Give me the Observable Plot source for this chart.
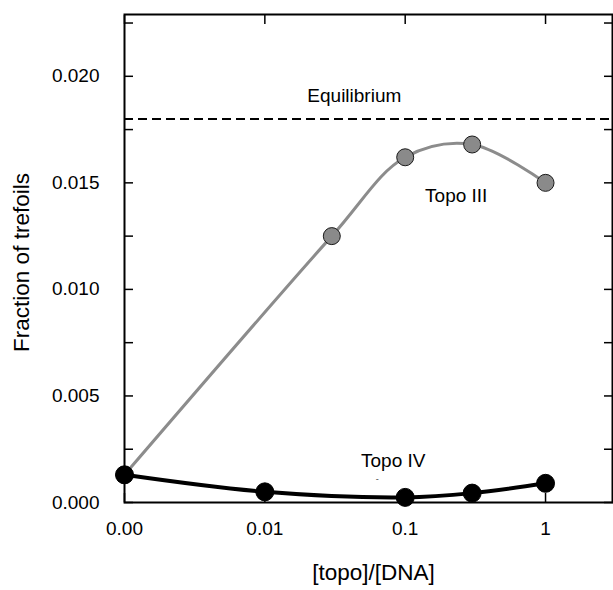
<!DOCTYPE html>
<html>
<head>
<meta charset="utf-8">
<script src="https://cdn.jsdelivr.net/npm/d3@7"></script>
<script src="https://cdn.jsdelivr.net/npm/@observablehq/plot@0.6"></script>
<style>
  html, body { margin: 0; padding: 0; background: #fff; }
</style>
</head>
<body>
<div id="chart"></div>
<script>
// [topo]/[DNA] ratios
const topo3X = [0.001, 0.03, 0.1, 0.3, 1];
const topo3Y = [0.0013, 0.0125, 0.0162, 0.0168, 0.0150];
const topo4X = [0.001, 0.01, 0.1, 0.3, 1];
const topo4Y = [0.0013, 0.0005, 0.00024, 0.00044, 0.0009];
const equilibrium = 0.018;

const xTicks = [0.001, 0.01, 0.1, 1];
const xTickLabels = ["0.00", "0.01", "0.1", "1"];
const yMinorTicks = [0, 0.0025, 0.005, 0.0075, 0.01, 0.0125, 0.015, 0.0175, 0.02, 0.0225];
const yLabelTicks = [0, 0.005, 0.01, 0.015, 0.02];

const annoText = ["Equilibrium", "Topo III", "Topo IV"];
const annoX = [0.0434, 0.231, 0.0822];
const annoY = [0.01906, 0.01437, 0.00197];
const markText = ["-"];
const markX = [0.0633];
const markY = [0.00108];

const topo3 = topo3X.map((x, i) => ({x, y: topo3Y[i]}));
const topo4 = topo4X.map((x, i) => ({x, y: topo4Y[i]}));
const annos = annoText.map((t, i) => ({t, x: annoX[i], y: annoY[i]}));
const marksSmall = markText.map((t, i) => ({t, x: markX[i], y: markY[i]}));

const font = "'Liberation Sans', Arial, sans-serif";

const chart = Plot.plot({
  width: 613,
  height: 590,
  marginTop: 14,
  marginBottom: 88,
  marginLeft: 124,
  marginRight: 1,
  style: {fontFamily: font, fontSize: "19px", background: "white", color: "black"},
  x: {type: "log", domain: [0.001, 3]},
  y: {domain: [0, 0.0229]},
  marks: [
    Plot.ruleY([equilibrium], {stroke: "black", strokeWidth: 2, strokeDasharray: "9,5"}),
    // inward tick marks on all four sides
    Plot.axisX({ticks: xTicks, anchor: "bottom", tickSize: -9, strokeWidth: 1.5, fill: "none", label: null}),
    Plot.axisX({ticks: xTicks, anchor: "top", tickSize: -9, strokeWidth: 1.5, fill: "none", label: null}),
    Plot.axisY({ticks: yMinorTicks, anchor: "left", tickSize: -9, strokeWidth: 1.5, fill: "none", label: null}),
    Plot.axisY({ticks: yMinorTicks, anchor: "right", tickSize: -9, strokeWidth: 1.5, fill: "none", label: null}),
    // tick labels
    Plot.axisX({ticks: xTicks, anchor: "bottom", tickSize: 0, tickPadding: 19, fontSize: 19,
      tickFormat: d => xTickLabels[xTicks.indexOf(d)], label: null}),
    Plot.axisY({ticks: yLabelTicks, anchor: "left", tickSize: 0, tickPadding: 25, fontSize: 19,
      tickFormat: d3.format(".3f"), label: null}),
    Plot.frame({stroke: "black", strokeWidth: 2}),
    // Topo III
    Plot.line(topo3, {x: "x", y: "y", stroke: "#8c8c8c", strokeWidth: 3, curve: "catmull-rom"}),
    Plot.dot(topo3, {x: "x", y: "y", r: 8.5, fill: "#8a8a8a", stroke: "#1a1a1a", strokeWidth: 1}),
    // Topo IV
    Plot.line(topo4, {x: "x", y: "y", stroke: "black", strokeWidth: 4, curve: "catmull-rom"}),
    Plot.dot(topo4, {x: "x", y: "y", r: 9, fill: "black", stroke: "black", strokeWidth: 1}),
    // annotations
    Plot.text(annos, {x: "x", y: "y", text: "t", fontSize: 19, fill: "black", textAnchor: "middle"}),
    Plot.text(marksSmall, {x: "x", y: "y", text: "t", fontSize: 9, fill: "#444", textAnchor: "middle"}),
    // axis titles
    Plot.text(["[topo]/[DNA]"], {frameAnchor: "bottom", dy: 77, dx: 5, fontSize: 22.5, fill: "black", textAnchor: "middle"}),
    Plot.text(["Fraction of trefoils"], {frameAnchor: "left", dx: -103, dy: 4, rotate: -90, fontSize: 22.5, fill: "black", textAnchor: "middle"})
  ]
});

document.getElementById("chart").appendChild(chart);
</script>
</body>
</html>
